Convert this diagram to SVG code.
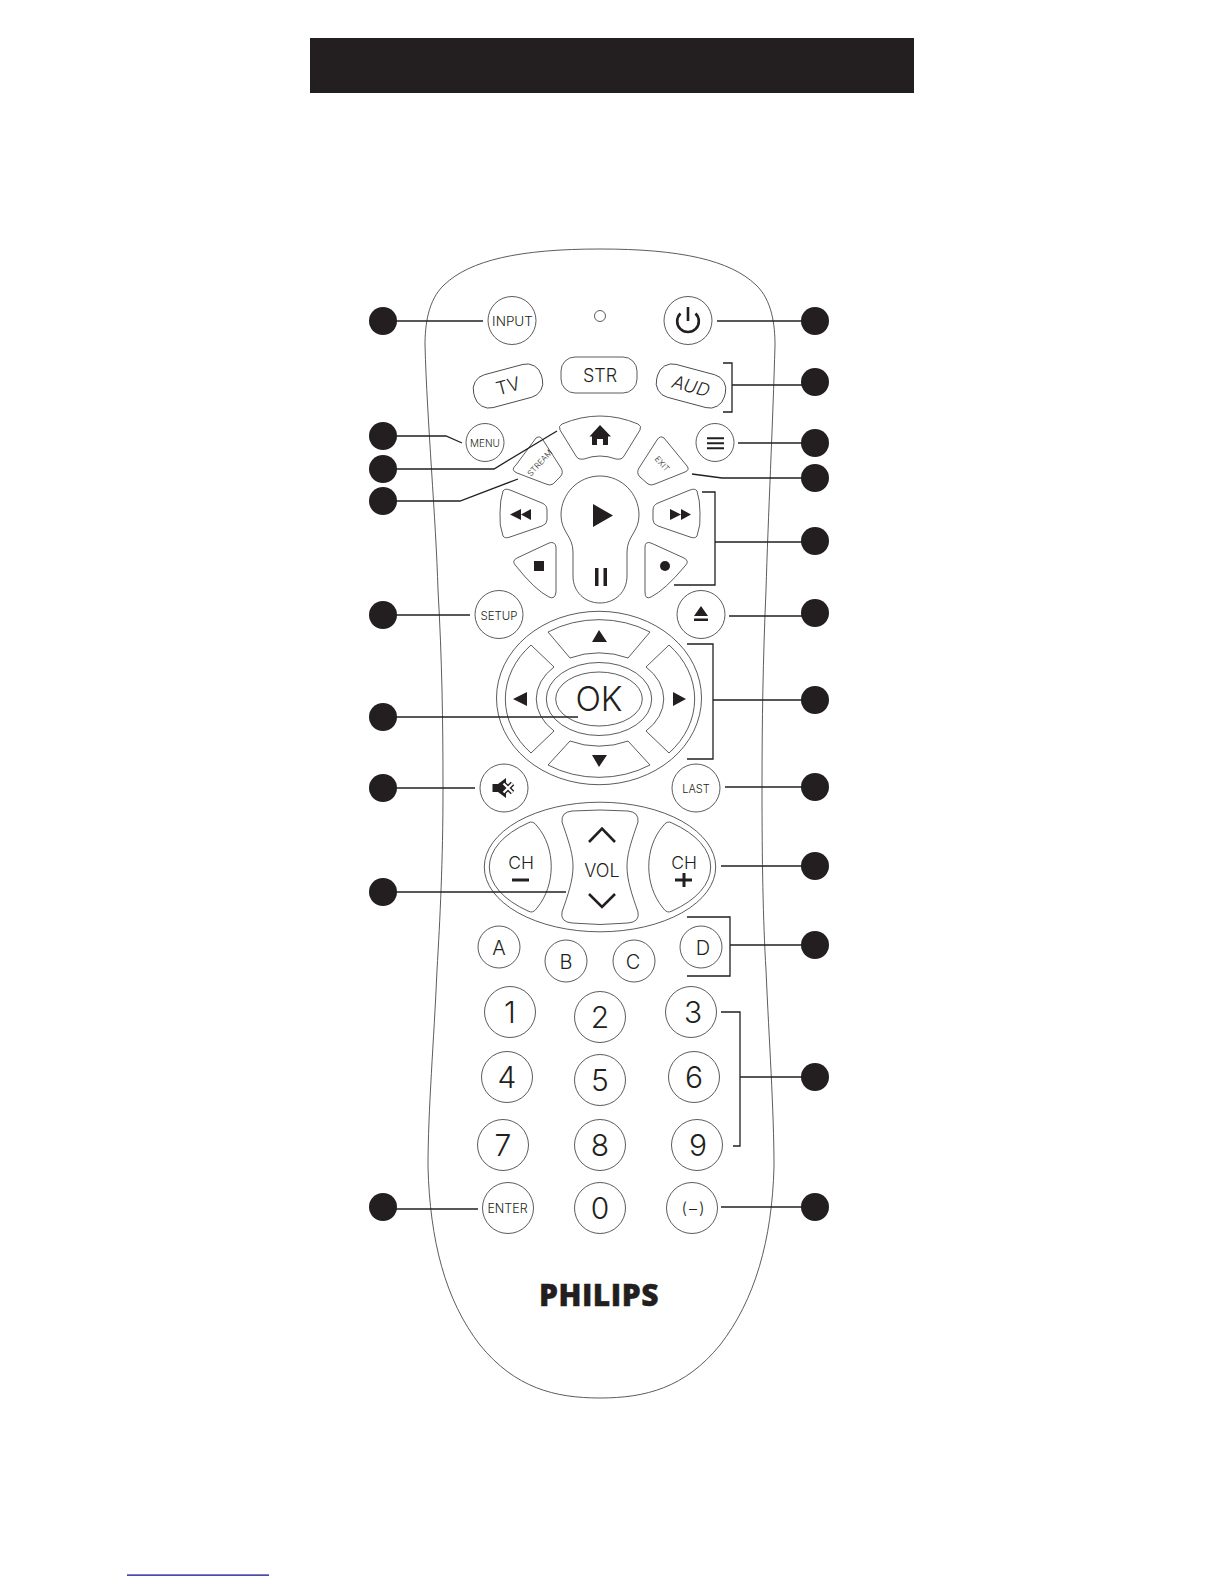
<svg xmlns="http://www.w3.org/2000/svg" width="1224" height="1584" viewBox="0 0 1224 1584">
<style>
.k{fill:#fff;stroke:#4a4a4a;stroke-width:.9}
.c{fill:none;stroke:#231f20;stroke-width:1.3}
.d{fill:#231f20}
.t{font-family:Inter,"Open Sans",sans-serif;font-weight:300;fill:#231f20;text-anchor:middle}
.i{fill:#231f20;stroke:none}
</style>
<rect width="1224" height="1584" fill="#fff"/>
<rect id="header-bar" x="310" y="38" width="604" height="55" fill="#231f20"/>
<rect id="footer-line" x="127" y="1574.500" width="142" height="1.200" fill="#00008b"/>
<path id="body" class="k" d="M600 249C520 249 470 260 444 285C428 300 425 325 425 345C427 420 436 520 438 590C442 660 443 720 443 790C443 860 440 920 437 970C434 1040 428 1110 428 1167C430 1240 445 1300 480 1345C515 1388 555 1398 600 1398C645 1398 685 1388 720 1345C755 1300 772 1240 774 1167C774 1110 769 1040 766 970C763 920 762 860 762 790C762 720 763 660 766 590C768 520 773 420 775 345C775 325 772 300 756 285C730 260 680 249 600 249Z"/>

<g id="led"><circle class="k" cx="600" cy="316" r="5.500"/></g>
<g id="input"><circle class="k" cx="512" cy="320.500" r="24"/><text class="t" x="512.500" y="326" font-size="13.500">INPUT</text></g>
<g id="power"><circle class="k" cx="688" cy="320.500" r="24"/><path fill="none" stroke="#231f20" stroke-width="2.600" d="M680.500 313.500A10.800 10.800 0 1 0 695.500 313.500M688 307V321"/></g>
<g id="tv"><rect class="k" x="473" y="369" width="70" height="34" rx="15" transform="rotate(-15 508 386)"/><text class="t" x="508" y="392.500" font-size="18.500" transform="rotate(-15 508 386)">TV</text></g>
<g id="str"><rect class="k" x="561" y="357" width="76" height="36" rx="14"/><text class="t" x="600" y="381.500" font-size="18">STR</text></g>
<g id="aud"><rect class="k" x="656" y="369" width="70" height="34" rx="15" transform="rotate(15 691 386)"/><text class="t" x="691" y="392.500" font-size="18" font-style="italic" transform="rotate(15 691 386)">AUD</text></g>
<g id="menu"><circle class="k" cx="485" cy="442.500" r="19"/><text class="t" x="485" y="447" font-size="10">MENU</text></g>
<g id="list"><circle class="k" cx="715" cy="442.500" r="19"/><path class="i" d="M707 437.300h17v2h-17zM707 442.300h17v2h-17zM707 447.300h17v2h-17z"/></g>
<g id="home"><path class="k" d="M562 424Q600 408 638 424Q642 426 640 430L624 456Q622 460 616 459Q600 453 584 459Q578 460 576 456L560 430Q558 426 562 424Z"/><path class="i" d="M600 425L611 436.500H608V445H603V439H597V445H592V436.500H589.500Z"/></g>
<g id="stream"><path class="k" d="M536 438Q540 435 543 440L561 468Q564 473 560 477L553 484Q550 486 546 484L517 473Q510 470 516 465Z"/><text class="t" x="540" y="465.500" font-size="8" transform="rotate(-48 540 463)">STREAM</text></g>
<g id="exit"><path class="k" d="M664 438Q660 435 657 440L639 468Q636 473 640 477L648 484Q651 486 655 484L685 472Q690 470 687 466Z"/><text class="t" x="662" y="466.500" font-size="8" transform="rotate(48 662 464)">EXIT</text></g>
<g id="rewind"><path class="k" d="M503 491Q505 488 510 490L542 503Q547 505 547 510V520Q547 524 542 526L510 537Q505 539 503 536Q499 525 500 513Q500 500 503 491Z"/><path class="i" d="M510 514.500L521 509V520ZM521 514.500L531 509V520Z"/></g>
<g id="ff"><path class="k" d="M697 491Q695 488 690 490L658 503Q653 505 653 510V520Q653 524 658 526L690 537Q695 539 697 536Q701 525 700 513Q700 500 697 491Z"/><path class="i" d="M670 509L681 514.500L670 520ZM681 509L691 514.500L681 520Z"/></g>
<g id="play-pause"><path class="k" d="M600 476C578 476 561 494 561 515C561 532 573 536 573 552V576C573 592 585 603 600 603C615 603 627 592 627 576V552C627 536 639 532 639 515C639 494 622 476 600 476Z"/><path class="i" d="M593 504L613 515.500L593 527ZM595 568h3.500v18H595zM603.500 568h3.500v18h-3.500z"/></g>
<g id="stop"><path class="k" d="M549 543Q555 541 556 547V592Q555 600 549 597Q535 590 516 566Q511 561 517 558Z"/><rect class="i" x="534" y="561" width="10" height="10"/></g>
<g id="rec"><path class="k" d="M651 543Q645 541 645 547V592Q645 600 651 597Q665 590 685 566Q690 561 684 558Z"/><circle class="i" cx="665" cy="566" r="5"/></g>
<g id="setup"><circle class="k" cx="499" cy="614.500" r="24"/><text class="t" x="499" y="620" font-size="11.500">SETUP</text></g>
<g id="eject"><circle class="k" cx="701" cy="614.500" r="24"/><path class="i" d="M701 606L708 616H694ZM694 618.500H708V621H694Z"/></g>

<g id="dpad"><ellipse class="k" cx="599" cy="698" rx="102.500" ry="86.700"/>
<path class="k" d="M548 632A95 79 0 0 1 650 632L628 658A63 46 0 0 0 570 658Z"/>
<path class="k" d="M548 765A95 79 0 0 0 650 765L628 741A63 46 0 0 1 570 741Z"/>
<path class="k" d="M531 645A95 79 0 0 0 531 753L554 731A63 46 0 0 1 554 667Z"/>
<path class="k" d="M669 645A95 79 0 0 1 669 753L646 731A63 46 0 0 0 646 667Z"/>
<path class="i" d="M599 630L607 642H592ZM592 755H607L599 767ZM527 692V706L513 699ZM673 692V706L686 699Z"/></g>
<g id="ok"><ellipse class="k" cx="599" cy="699" rx="52.700" ry="36.500"/><ellipse class="k" cx="599" cy="699" rx="43.300" ry="27"/><text class="t" x="599" y="710.500" font-size="33.500">OK</text></g>
<g id="mute"><circle class="k" cx="504" cy="788" r="24"/><path class="i" d="M492.500 784H498L506 778V798L498 792H492.500Z"/><path fill="none" stroke="#231f20" stroke-width="5" d="M503.500 783.500L512.500 792.500M512.500 783.500L503.500 792.500"/><path fill="none" stroke="#fff" stroke-width="2.200" d="M503.500 783.500L512.500 792.500M512.500 783.500L503.500 792.500"/></g>
<g id="last"><circle class="k" cx="696" cy="788" r="24"/><text class="t" x="696" y="792.500" font-size="11">LAST</text></g>

<g id="vol-group"><ellipse class="k" cx="600" cy="867" rx="115.700" ry="64.800"/>
<path class="k" d="M528 823A111 58 0 0 0 528 911Q533 914 537 908C556 885 556 848 537 826Q533 820 528 823Z"/>
<path class="k" d="M672 823A111 58 0 0 1 672 911Q667 914 663 908C644 885 644 848 663 826Q667 820 672 823Z"/>
<path class="k" d="M572 811Q600 809 628 811Q639 812 638 822C630 845 627 855 627 867C627 880 632 895 638 912Q640 922 628 923Q600 926 572 923Q560 922 562 912C568 895 573 880 573 867C573 855 570 845 562 822Q561 812 572 811Z"/>
<path fill="none" stroke="#231f20" stroke-width="2.600" d="M589 842L602 828.500L615 842M589 894L602 907L615 894"/>
<text class="t" x="602" y="877" font-size="18">VOL</text>
<text class="t" x="521" y="869" font-size="17.500">CH</text><rect class="i" x="512" y="878.500" width="17" height="3"/>
<text class="t" x="684" y="869" font-size="17.500">CH</text><path class="i" d="M675 878.500H682.500V873H685.500V878.500H692V881.500H685.500V887H682.500V881.500H675Z"/></g>

<g id="a"><circle class="k" cx="499" cy="947" r="21"/><text class="t" x="499" y="954.500" font-size="20">A</text></g>
<g id="b"><circle class="k" cx="566" cy="961" r="21"/><text class="t" x="566" y="968.500" font-size="20">B</text></g>
<g id="c"><circle class="k" cx="634" cy="961" r="21"/><text class="t" x="633" y="968.500" font-size="20">C</text></g>
<g id="d"><circle class="k" cx="701" cy="947" r="21"/><text class="t" x="703" y="954.500" font-size="20">D</text></g>

<g id="n1"><circle class="k" cx="510" cy="1012" r="25.500"/><text class="t" x="510" y="1023" font-size="30">1</text></g>
<g id="n2"><circle class="k" cx="600" cy="1017" r="25.500"/><text class="t" x="600" y="1028" font-size="30">2</text></g>
<g id="n3"><circle class="k" cx="691" cy="1012" r="25.500"/><text class="t" x="693" y="1023" font-size="30">3</text></g>
<g id="n4"><circle class="k" cx="507" cy="1077" r="25.500"/><text class="t" x="507" y="1088" font-size="30">4</text></g>
<g id="n5"><circle class="k" cx="600" cy="1080" r="25.500"/><text class="t" x="600" y="1091" font-size="30">5</text></g>
<g id="n6"><circle class="k" cx="694" cy="1077" r="25.500"/><text class="t" x="694" y="1088" font-size="30">6</text></g>
<g id="n7"><circle class="k" cx="503" cy="1145" r="25.500"/><text class="t" x="503" y="1156" font-size="30">7</text></g>
<g id="n8"><circle class="k" cx="600" cy="1145" r="25.500"/><text class="t" x="600" y="1156" font-size="30">8</text></g>
<g id="n9"><circle class="k" cx="697" cy="1145" r="25.500"/><text class="t" x="698" y="1156" font-size="30">9</text></g>
<g id="enter"><circle class="k" cx="508" cy="1208" r="25.500"/><text class="t" x="507.500" y="1213" font-size="12.500">ENTER</text></g>
<g id="n0"><circle class="k" cx="600" cy="1208" r="25.500"/><text class="t" x="600" y="1219" font-size="30">0</text></g>
<g id="dash"><circle class="k" cx="692" cy="1208" r="25.500"/><text class="t" x="694" y="1213.500" font-size="16" letter-spacing="2">(–)</text></g>
<g id="logo"><text x="599" y="1306" font-family="Open Sans,sans-serif" font-weight="800" font-size="30" letter-spacing=".5" text-anchor="middle" fill="#231f20" stroke="#231f20" stroke-width=".4">PHILIPS</text></g>

<g id="connectors" class="c">
<path d="M383 321H483"/>
<path d="M383 436H446L462 443"/>
<path d="M383 469H494L557 431"/>
<path d="M383 501H460L518 479"/>
<path d="M383 615H470"/>
<path d="M383 717H578"/>
<path d="M383 788H475"/>
<path d="M383 892H566"/>
<path d="M383 1209H478"/>
<path d="M717 321H815"/>
<path d="M723 363H732V412H723M732 385H815"/>
<path d="M738 443H815"/>
<path d="M692 474L722 478H815"/>
<path d="M702 492H715V585H674M715 542H815"/>
<path d="M729 616H815"/>
<path d="M687 644H713V759H687M713 700H815"/>
<path d="M725 787H815"/>
<path d="M721 866H815"/>
<path d="M687 917H730V976H687M730 945H815"/>
<path d="M721 1012H740V1146H733M740 1077H815"/>
<path d="M721 1207H815"/>
</g>
<g id="dots" class="d">
<circle cx="383" cy="321" r="14"/><circle cx="383" cy="436" r="14"/><circle cx="383" cy="469" r="14"/><circle cx="383" cy="501" r="14"/><circle cx="383" cy="615" r="14"/><circle cx="383" cy="717" r="14"/><circle cx="383" cy="788" r="14"/><circle cx="383" cy="892" r="14"/><circle cx="383" cy="1207" r="14"/>
<circle cx="815" cy="321" r="14"/><circle cx="815" cy="382" r="14"/><circle cx="815" cy="443" r="14"/><circle cx="815" cy="478" r="14"/><circle cx="815" cy="541" r="14"/><circle cx="815" cy="613" r="14"/><circle cx="815" cy="700" r="14"/><circle cx="815" cy="787" r="14"/><circle cx="815" cy="866" r="14"/><circle cx="815" cy="945" r="14"/><circle cx="815" cy="1077" r="14"/><circle cx="815" cy="1207" r="14"/>
</g>
</svg>
